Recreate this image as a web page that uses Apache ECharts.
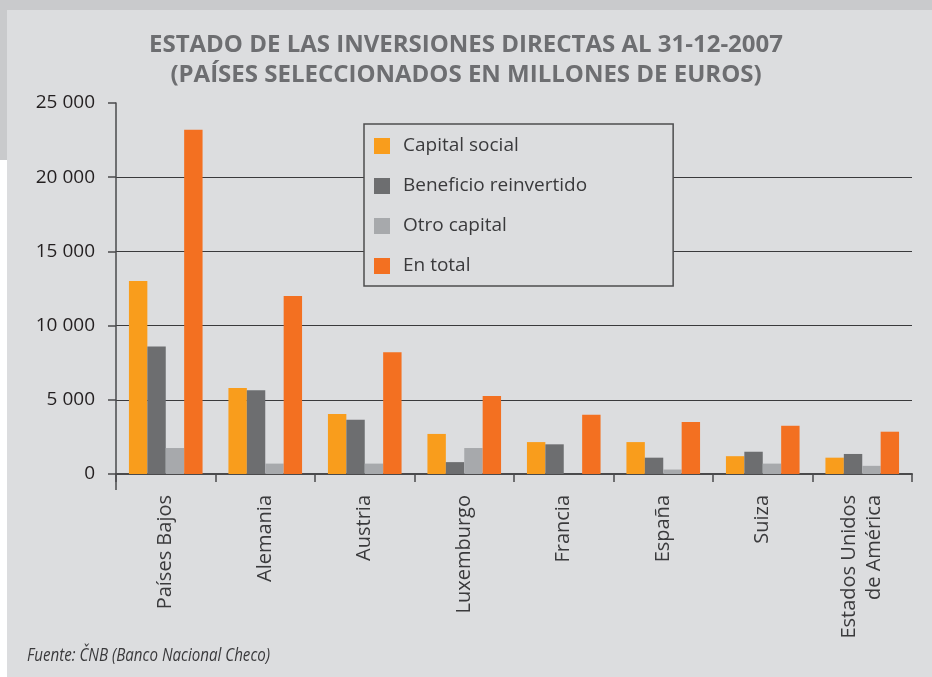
<!DOCTYPE html>
<html>
<head>
<meta charset="utf-8">
<script src="https://cdn.jsdelivr.net/npm/echarts@6/dist/echarts.min.js"></script>
<style>
    html, body { margin: 0; padding: 0; background: #fff; }
    #graph1 { width: 932px; height: 677px; }
</style>
</head>
<body>
<div id="graph1"></div>
<script>
// datos (millones de euros)
var paises = ['Países Bajos', 'Alemania', 'Austria', 'Luxemburgo', 'Francia', 'España', 'Suiza', 'Estados Unidos\nde América'];
var capitalSocial = [13000, 5800, 4050, 2700, 2150, 2150, 1200, 1100];
var beneficioReinvertido = [8600, 5650, 3650, 800, 2000, 1100, 1500, 1350];
var otroCapital = [1750, 700, 700, 1750, -100, 300, 700, 550];
var enTotal = [23200, 12000, 8200, 5250, 4000, 3500, 3250, 2850];
var nombres = ['Capital social', 'Beneficio reinvertido', 'Otro capital', 'En total'];
var colores = ['#f99d1c', '#6d6e70', '#a7a9ac', '#f37021'];

var fuente = '"Open Sans", "Noto Sans", sans-serif';

function formatoMiles(v) {
    return String(v).replace(/\B(?=(\d{3})+(?!\d))/g, ' ');
}

var myChart1 = echarts.init(document.getElementById('graph1'));

var seriesData = [capitalSocial, beneficioReinvertido, otroCapital, enTotal];
var series = [];
for (var i = 0; i < seriesData.length; i++) {
    series.push({
        name: nombres[i],
        type: 'bar',
        barGap: 0,
        barCategoryGap: '26%',
        itemStyle: { color: colores[i] },
        data: seriesData[i]
    });
}

var option1 = {
    backgroundColor: '#dcdddf',
    animation: false,
    color: colores,
    title: {
        text: 'ESTADO DE LAS INVERSIONES DIRECTAS AL 31-12-2007\n(PAÍSES SELECCIONADOS EN MILLONES DE EUROS)',
        left: 'center',
        top: 25,
        textStyle: {
            fontFamily: fuente,
            fontSize: 24,
            fontWeight: 'bold',
            lineHeight: 30,
            color: '#6d6e71'
        }
    },
    legend: {
        orient: 'vertical',
        left: 364,
        top: 124,
        padding: [10, 86, 8, 10],
        itemGap: 16,
        itemWidth: 16,
        itemHeight: 16,
        icon: 'rect',
        backgroundColor: '#dcdddf',
        borderColor: '#4d4d4f',
        borderWidth: 1.5,
        z: 5,
        data: nombres,
        textStyle: {
            fontFamily: fuente,
            fontSize: 19,
            lineHeight: 24,
            color: '#3a3a3c',
            padding: [0, 0, 0, 8]
        }
    },
    grid: {
        left: 116,
        right: 20,
        top: 103,
        bottom: 203,
        containLabel: false
    },
    xAxis: {
        type: 'category',
        data: paises,
        axisLine: { show: true, lineStyle: { color: '#4a4a4c', width: 2 } },
        axisTick: { show: true, length: 8, lineStyle: { color: '#4a4a4c', width: 1.5 } },
        axisLabel: {
            rotate: 90,
            margin: 21,
            interval: 0,
            fontFamily: fuente,
            fontSize: 20,
            lineHeight: 25,
            color: '#3a3a3c'
        }
    },
    yAxis: {
        type: 'value',
        min: 0,
        max: 25000,
        interval: 5000,
        axisLine: { show: true, lineStyle: { color: '#4a4a4c', width: 1.5 } },
        axisTick: { show: true, length: 8, lineStyle: { color: '#4a4a4c', width: 1.5 } },
        splitLine: { show: true, showMaxLine: false, lineStyle: { color: '#3a3a3c', width: 1.2 } },
        axisLabel: {
            margin: 21,
            fontFamily: fuente,
            fontSize: 19,
            color: '#231f20',
            formatter: formatoMiles
        }
    },
    graphic: [
        { type: 'rect', shape: { x: 0, y: 0, width: 932, height: 10 }, style: { fill: '#c9cacc' }, silent: true },
        { type: 'rect', shape: { x: 0, y: 0, width: 7, height: 160 }, style: { fill: '#c9cacc' }, silent: true },
        { type: 'rect', shape: { x: 0, y: 160, width: 7, height: 517 }, style: { fill: '#ffffff' }, silent: true },
        // eje vertical que baja por debajo de la base
        { type: 'line', shape: { x1: 116, y1: 474, x2: 116, y2: 490 }, style: { stroke: '#4a4a4c', lineWidth: 1.5 }, silent: true },
        {
            type: 'text',
            x: 27,
            y: 647,
            scaleX: 0.84,
            style: {
                text: 'Fuente: ČNB (Banco Nacional Checo)',
                font: 'italic 18px "Open Sans", sans-serif',
                fill: '#3a3a3c'
            }
        }
    ],
    series: series
};

// 使用刚指定的配置项和数据显示图表。
myChart1.setOption(option1);
</script>
</body>
</html>
